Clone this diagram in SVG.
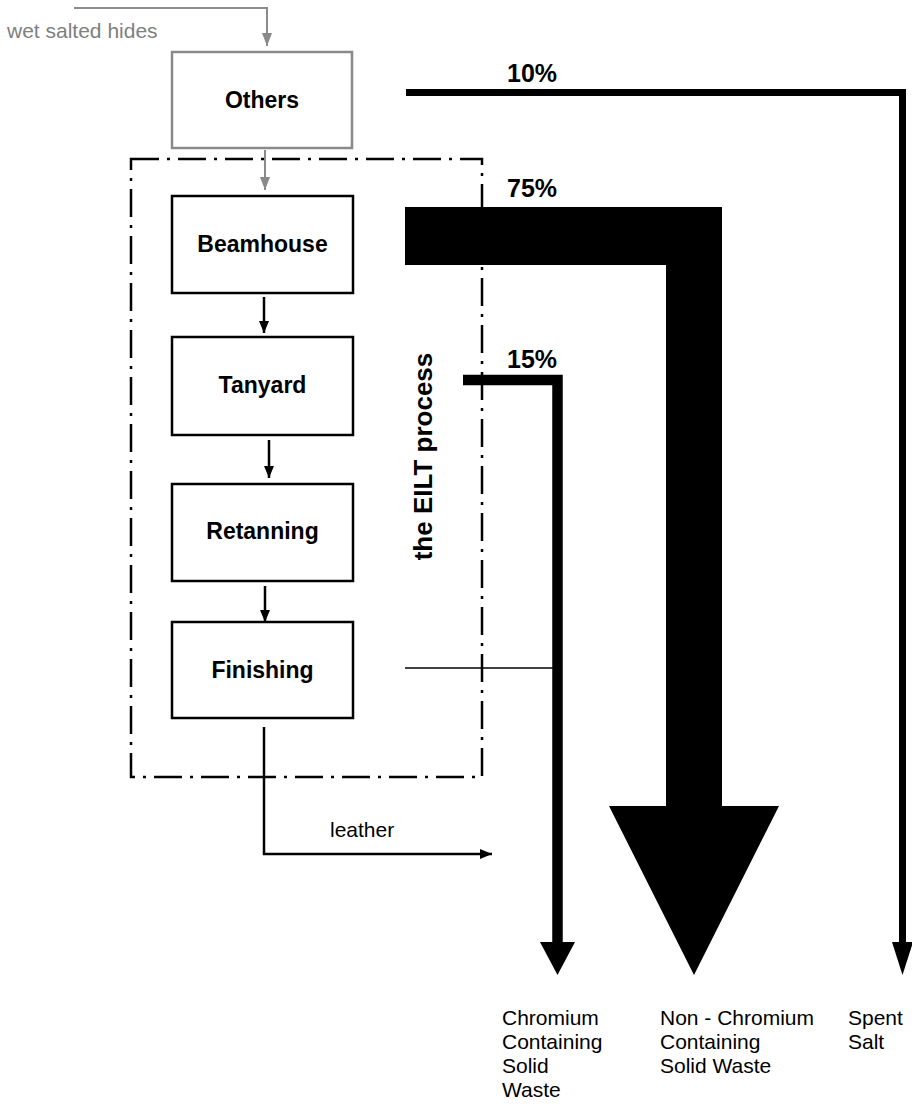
<svg xmlns="http://www.w3.org/2000/svg" width="912" height="1104" viewBox="0 0 912 1104">
  <defs>
    <style>
      text { font-family: "Liberation Sans", Arial, sans-serif; }
      .box { fill: #fff; stroke: #000; stroke-width: 2.5; }
      .box-grey { fill: #fff; stroke: #8a8a8a; stroke-width: 2.5; }
      .node-label { font-size: 23px; font-weight: bold; text-anchor: middle; fill: #000; }
      .pct { font-size: 25px; font-weight: bold; fill: #000; }
      .out { font-size: 21px; fill: #000; }
      .flow-thin { fill: none; stroke: #000; stroke-width: 2.5; }
      .flow-grey { fill: none; stroke: #8a8a8a; stroke-width: 2; }
      .boundary { fill: none; stroke: #000; stroke-width: 2.5; stroke-dasharray: 28 8 3 8; }
    </style>
    <marker id="arrowBlack" viewBox="0 0 12 10" refX="12" refY="5" markerWidth="12" markerHeight="10" markerUnits="userSpaceOnUse" orient="auto">
      <path d="M0,0 L12,5 L0,10 Z" fill="#000"/>
    </marker>
    <marker id="arrowGrey" viewBox="0 0 13 10" refX="13" refY="5" markerWidth="13" markerHeight="10" markerUnits="userSpaceOnUse" orient="auto">
      <path d="M0,0 L13,5 L0,10 Z" fill="#8a8a8a"/>
    </marker>
  </defs>

  <!-- EILT process boundary -->
  <g id="eilt-process">
    <rect class="boundary" x="131" y="159" width="351" height="618"/>
    <text x="432" y="456.5" transform="rotate(-90 432 456.5)" font-size="26" font-weight="bold" text-anchor="middle">the EILT process</text>
  </g>

  <!-- process steps -->
  <g id="others">
    <rect class="box-grey" x="172" y="52" width="180" height="96"/>
    <text class="node-label" x="262" y="108">Others</text>
  </g>
  <g id="beamhouse">
    <rect class="box" x="172" y="196" width="181" height="97"/>
    <text class="node-label" x="262.5" y="252">Beamhouse</text>
  </g>
  <g id="tanyard">
    <rect class="box" x="172" y="337" width="181" height="98"/>
    <text class="node-label" x="262.5" y="393">Tanyard</text>
  </g>
  <g id="retanning">
    <rect class="box" x="172" y="484" width="181" height="97"/>
    <text class="node-label" x="262.5" y="539">Retanning</text>
  </g>
  <g id="finishing">
    <rect class="box" x="172" y="622" width="181" height="96"/>
    <text class="node-label" x="262.5" y="678">Finishing</text>
  </g>

  <!-- connectors -->
  <g id="connectors">
    <!-- incoming hides -->
    <path class="flow-grey" d="M74,8 H267 V46" marker-end="url(#arrowGrey)"/>
    <path class="flow-grey" d="M265,150 V190" marker-end="url(#arrowGrey)"/>
    <!-- process chain -->
    <path class="flow-thin" d="M264,297 V333" marker-end="url(#arrowBlack)"/>
    <path class="flow-thin" d="M269,440 V478" marker-end="url(#arrowBlack)"/>
    <path class="flow-thin" d="M265,586 V622" marker-end="url(#arrowBlack)"/>
    <path class="flow-thin" d="M264,727 V854 H492" marker-end="url(#arrowBlack)"/>

    <!-- 10 % : spent salt -->
    <path d="M406,92.5 H902.5 V944" fill="none" stroke="#000" stroke-width="7" stroke-linejoin="miter"/>
    <polygon points="892,942 913,942 902.5,975" fill="#000"/>

    <!-- 75 % : non-chromium solid waste -->
    <polygon points="405,207 722,207 722,806 779,806 694,975 609,806 666,806 666,265 405,265" fill="#000"/>

    <!-- 15 % : chromium containing solid waste -->
    <path d="M463,380 H557.5 V944" fill="none" stroke="#000" stroke-width="10.5" stroke-linejoin="miter"/>
    <polygon points="540,942 575,942 557.5,975" fill="#000"/>

    <!-- finishing residue joins the chromium stream -->
    <path d="M405,668 H553" fill="none" stroke="#000" stroke-width="1.6"/>
  </g>

  <!-- flow labels -->
  <g id="labels">
    <text x="7" y="38" font-size="21" fill="#808080">wet salted hides</text>
    <text class="pct" x="507" y="82">10%</text>
    <text class="pct" x="507" y="197">75%</text>
    <text class="pct" x="507" y="368">15%</text>
    <text class="out" x="330" y="837">leather</text>
  </g>

  <g id="output-chromium">
    <text class="out" x="502" y="1025">Chromium</text>
    <text class="out" x="502" y="1049">Containing</text>
    <text class="out" x="502" y="1073">Solid</text>
    <text class="out" x="502" y="1097">Waste</text>
  </g>
  <g id="output-non-chromium">
    <text class="out" x="660" y="1025">Non - Chromium</text>
    <text class="out" x="660" y="1049">Containing</text>
    <text class="out" x="660" y="1073">Solid Waste</text>
  </g>
  <g id="output-salt">
    <text class="out" x="848" y="1025">Spent</text>
    <text class="out" x="848" y="1049">Salt</text>
  </g>
</svg>
